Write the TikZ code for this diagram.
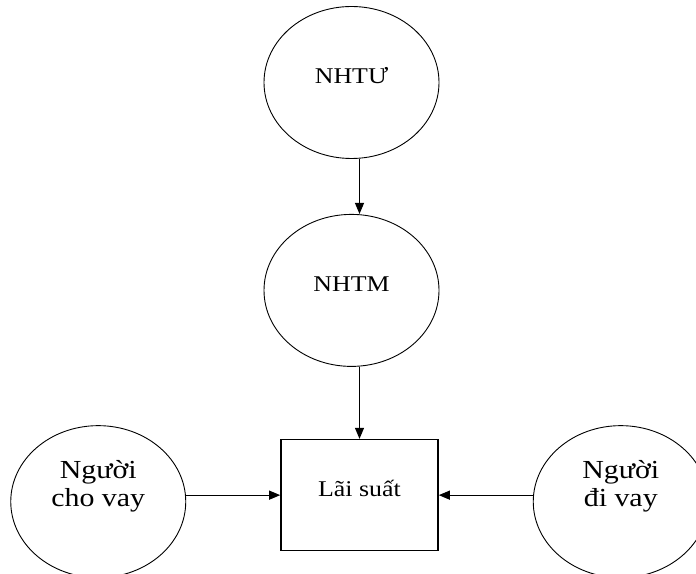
\documentclass[tikz,border=0pt]{standalone}
\usepackage{fontspec}
\setmainfont{Liberation Serif}[FakeStretch=1.15]
\usetikzlibrary{positioning,shapes.geometric,arrows.meta}

\tikzset{
  bank/.style={ellipse, draw, line width=0.9pt, minimum width=175pt, minimum height=152pt,
    inner sep=0pt, text height=15pt, text depth=13pt},
  agent/.style={ellipse, draw, line width=0.9pt, minimum width=175pt, minimum height=152pt,
    inner sep=0pt, align=center, text depth=36pt, font=\fontsize{26pt}{28.5pt}\selectfont},
  ratebox/.style={rectangle, draw, line width=1.6pt, minimum width=157pt, minimum height=111pt,
    inner sep=0pt, text height=15pt, text depth=13pt},
  arr/.style={line width=1.1pt, -{Triangle[length=11pt,width=9pt]}}
}

\begin{document}
\begin{tikzpicture}[font=\fontsize{22.5pt}{28pt}\selectfont]
 \useasboundingbox (0,0) rectangle (696pt,573pt);
 \node [bank] (nhtu) at (351.5pt,490.5pt) {NHTƯ};
 \node [bank, below=55pt of nhtu] (nhtm) {NHTM};
 \node [ratebox, below=72pt of nhtm, xshift=8pt] (lai) {Lãi suất};
 \node [agent, left=94pt of lai, yshift=-6.5pt] (lender) {Người\\cho vay};
 \node [agent, right=94pt of lai, yshift=-6.5pt] (borrower) {Người\\đi vay};
 \draw [arr] (nhtu.south -| lai) -- (nhtm.north -| lai);
 \draw [arr] (nhtm.south -| lai) -- (lai.north);
 \draw [arr] (lai.west -| lender.east) -- (lai.west);
 \draw [arr] (lai.east -| borrower.west) -- (lai.east);
\end{tikzpicture}
\end{document}
